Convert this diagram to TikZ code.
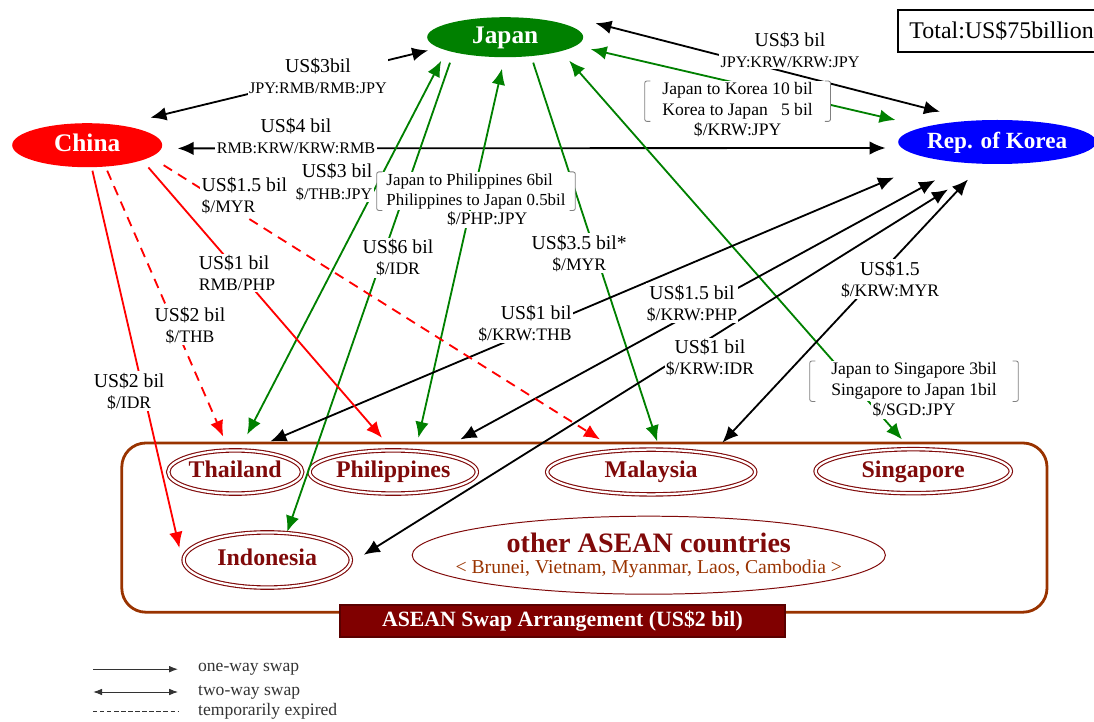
\documentclass[tikz,border=0pt]{standalone}
\usepackage{fontspec}
\setmainfont{Liberation Serif}
\usetikzlibrary{arrows.meta, calc, positioning, shapes.geometric}
\definecolor{jpgreen}{RGB}{0,128,0}
\definecolor{asbrown}{RGB}{153,51,0}
\definecolor{asred}{RGB}{128,10,10}
\definecolor{asmaroon}{RGB}{128,0,0}
\newcommand{\curfont}{\fontsize{12.5}{15}\selectfont}
\newcommand{\pairfont}{\fontsize{11.5}{14}\selectfont}

\begin{document}
\begin{tikzpicture}[power/.style={ellipse, inner sep=0pt, text height=12pt, text depth=3pt, text=white, font=\bfseries\fontsize{18}{20}\selectfont},
	member/.style={ellipse, draw=asred, double, double distance=1.6pt, line width=0.8pt, inner sep=0pt, text height=12pt, text depth=3.5pt, text=asred, font=\bfseries\fontsize{17}{19}\selectfont},
	amount/.style={fill=white, inner sep=1pt, align=center, font=\fontsize{14}{15}\selectfont},
	deal/.style={fill=white, inner xsep=4pt, inner ysep=1pt, font=\curfont},
	brk/.style={draw=gray, line width=0.6pt, rounded corners=1.5pt},
	swapline/.style={line width=1.3pt},
	oneway/.style={swapline, -{Latex[length=4mm, width=3.4mm]}},
	twoway/.style={swapline, {Latex[length=4mm, width=3.4mm]}-{Latex[length=4mm, width=3.4mm]}},
	expired/.style={oneway, dash pattern=on 7pt off 5pt},
	keyline/.style={line width=0.7pt, draw=black!80}]
		\useasboundingbox (0,0) rectangle (27.35,-18.05);
		% ASEAN group
		\node[draw=asbrown, line width=2pt, rounded corners=0.6cm, minimum width=23.13cm, minimum height=4.23cm] (asean) at (14.61,-13.19) {};
		\node[member, minimum width=3.35cm, minimum height=1.08cm] (thailand) at (5.88,-11.8) {Thailand};
		\node[member, minimum width=4.18cm, minimum height=1.08cm] (philippines) at (9.83,-11.8) {Philippines};
		\node[member, minimum width=5.2cm, minimum height=1.12cm] (malaysia) at (16.28,-11.8) {Malaysia};
		\node[member, minimum width=4.88cm, minimum height=1.1cm] (singapore) at (22.83,-11.78) {Singapore};
		\node[member, minimum width=4.18cm, minimum height=1.38cm] (indonesia) at (6.68,-14.0) {Indonesia};
		\node[ellipse, draw=asred, line width=0.7pt, minimum width=11.83cm, minimum height=1.95cm, inner xsep=-0.9cm, inner ysep=0pt, align=center, text=asred] (others) at (16.22,-13.88) {{\bfseries\fontsize{20}{22}\selectfont other ASEAN countries}\\[3pt]\color{asbrown}\fontsize{14}{15}\selectfont < Brunei, Vietnam, Myanmar, Laos, Cambodia >};
		\node[fill=asmaroon, draw=asmaroon!70!black, line width=1pt, minimum width=11.13cm, minimum height=0.8cm, text=white, font=\bfseries\fontsize{15.5}{17}\selectfont] (asa) at (14.06,-15.53) {ASEAN Swap Arrangement (US\$2 bil)};
		% the three partners
		\node[power, fill=jpgreen, minimum width=3.9cm, minimum height=1cm] (japan) at (12.63,-0.93) {Japan};
		\node[power, fill=red, minimum width=3.75cm, minimum height=1.1cm] (china) at (2.18,-3.63) {China};
		\node[power, fill=blue, minimum width=4.4cm, minimum height=1.1cm, font=\bfseries\fontsize{16.5}{18}\selectfont] (korea) at (24.93,-3.55) {Rep. of Korea};
		\node[draw, line width=1.5pt, anchor=west, text width=7cm, inner xsep=0.28cm, minimum height=1.05cm, font=\fontsize{17}{19}\selectfont] (total) at (22.43,-0.78) {Total:US\$75billion};
		% swaps between the three
		\draw[twoway] ($(china.north)+(1.58,0.13)$) -- ($(japan.west)+(0.03,-0.33)$);
		\draw[twoway] ($(china.east)+(0.38,-0.08)$) -- ($(korea.west)+(-0.31,-0.15)$);
		\draw[twoway] ($(japan.east)+(0.3,0.35)$) -- ($(korea.north)+(-1.43,0.2)$);
		\draw[twoway, jpgreen] ($(japan.east)+(0.18,-0.3)$) -- ($(korea.west)+(-0.06,0.55)$);
		% Japan
		\draw[twoway, jpgreen] ($(japan.south)+(-1.6,-0.08)$) -- ($(thailand.north)+(0.3,0.38)$);
		\draw[oneway, jpgreen] ($(japan.south)+(-1.38,-0.13)$) -- ($(indonesia.north)+(0.5,0)$);
		\draw[twoway, jpgreen] ($(japan.south)+(-0.08,-0.28)$) -- ($(philippines.north)+(0.63,0.3)$);
		\draw[oneway, jpgreen] ($(japan.south)+(0.7,-0.13)$) -- ($(malaysia.north)+(0.15,0.19)$);
		\draw[twoway, jpgreen] ($(japan.south)+(1.6,-0.08)$) -- ($(singapore.north)+(-0.28,0.23)$);
		% Korea
		\draw[twoway] ($(korea.south)+(-2.58,-0.33)$) -- ($(thailand.north)+(0.88,0.21)$);
		\draw[twoway] ($(korea.south)+(-1.55,-0.4)$) -- ($(philippines.north)+(1.68,0.26)$);
		\draw[twoway] ($(korea.south)+(-1.23,-0.63)$) -- ($(indonesia.east)+(0.31,0.13)$);
		\draw[twoway] ($(korea.south)+(-0.73,-0.38)$) -- ($(malaysia.north)+(1.78,0.16)$);
		% China
		\draw[oneway, red] ($(china.south)+(0.13,-0.08)$) -- ($(indonesia.west)+(-0.09,0.3)$);
		\draw[expired, red] ($(china.south)+(0.5,-0.08)$) -- ($(thailand.north)+(-0.3,0.33)$);
		\draw[oneway, red] ($(china.south)+(1.53,0)$) -- ($(philippines.north)+(-0.28,0.3)$);
		\draw[expired, red] ($(china.east)+(0.03,-0.5)$) -- ($(malaysia.north)+(-1.28,0.24)$);
		% amounts
		\node[amount] (lblcj) at (7.95,-1.9) {US\$3bil\\\pairfont JPY:RMB/RMB:JPY};
		\node[amount] (lblck) at (7.4,-3.4) {US\$4 bil\\\pairfont RMB:KRW/KRW:RMB};
		\node[amount] (lbljk) at (19.75,-1.25) {US\$3 bil\\\pairfont JPY:KRW/KRW:JPY};
		\node[deal, align=right, minimum width=4.63cm, minimum height=0.9cm] (jkbr) at (18.44,-2.53) {Japan to Korea 10 bil\\Korea to Japan\ \ \ 5 bil};
		\node[amount, below=0pt of jkbr, font=\curfont] (jkcur) {\$/KRW:JPY};
		\node[amount, anchor=west, align=left] (lblcm) at (5.0,-4.9) {US\$1.5 bil\\\curfont \$/MYR};
		\node[amount, anchor=east, align=right] (lbljt) at (9.35,-4.55) {US\$3 bil\\\pairfont \$/THB:JPY};
		\node[deal, align=left, minimum width=4.95cm, minimum height=0.95cm, font=\fontsize{12}{14}\selectfont] (jpbr) at (11.9,-4.78) {Japan to Philippines 6bil\\Philippines to Japan 0.5bil};
		\node[amount, below=0pt of jpbr, xshift=0.28cm, font=\curfont] (jpcur) {\$/PHP:JPY};
		\node[amount] (lblji) at (9.95,-6.45) {US\$6 bil\\\curfont \$/IDR};
		\node[amount] (lbljm) at (14.48,-6.33) {US\$3.5 bil*\\\curfont \$/MYR};
		\node[amount, anchor=west, align=left] (lblcp) at (4.93,-6.83) {US\$1 bil\\\curfont RMB/PHP};
		\node[amount] (lblct) at (4.75,-8.13) {US\$2 bil\\\curfont \$/THB};
		\node[amount] (lblci) at (3.23,-9.78) {US\$2 bil\\\curfont \$/IDR};
		\node[amount, anchor=east, align=right] (lblkt) at (14.33,-8.08) {US\$1 bil\\\curfont \$/KRW:THB};
		\node[amount] (lblkp) at (17.3,-7.58) {US\$1.5 bil\\\curfont \$/KRW:PHP};
		\node[amount] (lblki) at (17.75,-8.95) {US\$1 bil\\\curfont \$/KRW:IDR};
		\node[amount] (lblkm) at (22.25,-6.98) {US\$1.5\\\curfont \$/KRW:MYR};
		\node[deal, align=center, minimum width=5.2cm, minimum height=0.95cm] (jsbr) at (22.85,-9.53) {Japan to Singapore 3bil\\Singapore to Japan 1bil};
		\node[amount, below=0pt of jsbr, font=\curfont] (jscur) {\$/SGD:JPY};
		\foreach \b in {jkbr, jpbr, jsbr} {
			\draw[brk] ([xshift=4pt]\b.north west) -- (\b.north west) -- (\b.south west) -- ([xshift=4pt]\b.south west);
			\draw[brk] ([xshift=-4pt]\b.north east) -- (\b.north east) -- (\b.south east) -- ([xshift=-4pt]\b.south east);
		}
		% legend
		\coordinate (keyone) at (2.33,-16.73);
		\coordinate (keytwo) at (2.33,-17.3);
		\coordinate (keyexp) at (2.33,-17.78);
		\node[anchor=west, font=\curfont, text=black!80] (onewaytxt) at (4.83,-16.73) {one-way swap};
		\node[anchor=west, font=\curfont, text=black!80] (twowaytxt) at (4.83,-17.3) {two-way swap};
		\node[anchor=west, font=\curfont, text=black!80] (expiredtxt) at (4.83,-17.78) {temporarily expired};
		\draw[keyline, -{Latex[length=2.2mm]}] (keyone) -- ([xshift=-0.38cm]onewaytxt.west);
		\draw[keyline, {Latex[length=2.2mm]}-{Latex[length=2.2mm]}] (keytwo) -- ([xshift=-0.38cm]twowaytxt.west);
		\draw[keyline, dash pattern=on 3pt off 2pt] (keyexp) -- ([xshift=-0.38cm]expiredtxt.west);
	\end{tikzpicture}
\end{document}
